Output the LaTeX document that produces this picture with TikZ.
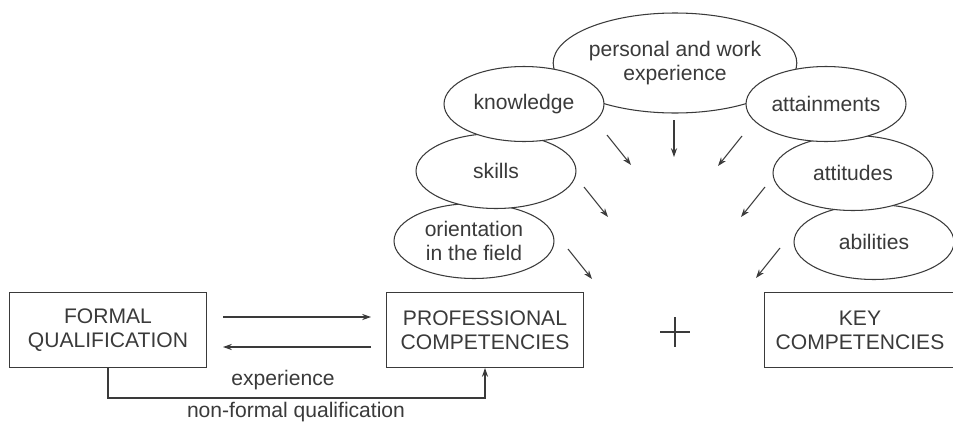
\documentclass[tikz,border=0pt]{standalone}
\usepackage{fontspec}
\setmainfont{Liberation Sans}
\usetikzlibrary{shapes.geometric,arrows.meta}
\definecolor{ink}{HTML}{3A3A3A}

\tikzset{
    box/.style={draw=ink,line width=0.6pt,minimum width=3.94cm,minimum height=1.5cm,align=center,text=ink,inner sep=0pt,font=\fontsize{12}{13.6}\selectfont},
    blob/.style={ellipse,draw=ink,fill=white,line width=0.6pt,minimum width=3.2cm,minimum height=1.5cm,align=center,text=ink,inner sep=0pt,font=\fontsize{12}{13.6}\selectfont},
    arr/.style={draw=ink,line width=0.6pt,-{Stealth[length=5pt,width=3.5pt]}},
    lbl/.style={text=ink,font=\fontsize{12}{13.6}\selectfont}
}

\begin{document}
\begin{tikzpicture}[x=0.02cm,y=-0.02cm]
    \useasboundingbox (0,0) rectangle (953,423);

    % the three boxes
    \node[box] (formal) at (108,330) {FORMAL\\QUALIFICATION};
    \node[box] (prof) at (485,330) {PROFESSIONAL\\COMPETENCIES};
    \node[box,minimum width=3.84cm] (key) at (860,330) {KEY\\COMPETENCIES};

    % ellipses, back to front
    \node[blob] (orient) at (474,241) {orientation\\in the field};
    \node[blob] (skills) at (496,171) {skills};
    \node[blob] (abil) at (874,242) {abilities};
    \node[blob] (attit) at (853,173) {attitudes};
    \node[blob,minimum width=4.68cm,minimum height=2cm] (pers) at (675,63) {personal and work\\experience};
    \node[blob] (know) at (524,104) {knowledge};
    \node[blob] (attain) at (826,104) {attainments};

    % arrows towards the middle
    \foreach \a/\b in {607/135, 584/187, 568/249}
        \draw[arr] (\a,\b) -- ++(24,30);
    \foreach \a/\b in {742/136, 765/187, 780/248}
        \draw[arr] (\a,\b) -- ++(-24,30);
    \draw[arr] (674,120) -- (674,157);

    % plus
    \draw[ink,line width=0.6pt] (660,332) -- (690,332);
    \draw[ink,line width=0.6pt] (675,317) -- (675,347);

    % between the boxes
    \draw[arr] ([xshift=0.32cm,yshift=0.26cm]formal.east) -- ([xshift=-0.3cm,yshift=0.26cm]prof.west);
    \draw[arr] ([xshift=-0.3cm,yshift=-0.34cm]prof.west) -- ([xshift=0.32cm,yshift=-0.34cm]formal.east);
    \draw[arr] (formal.south) -- ++(0,30) -| (prof.south);
    \node[lbl] (exp) at (283,380) {experience};
    \node[lbl] (nonformal) at (296,412) {non-formal qualification};
\end{tikzpicture}
\end{document}
